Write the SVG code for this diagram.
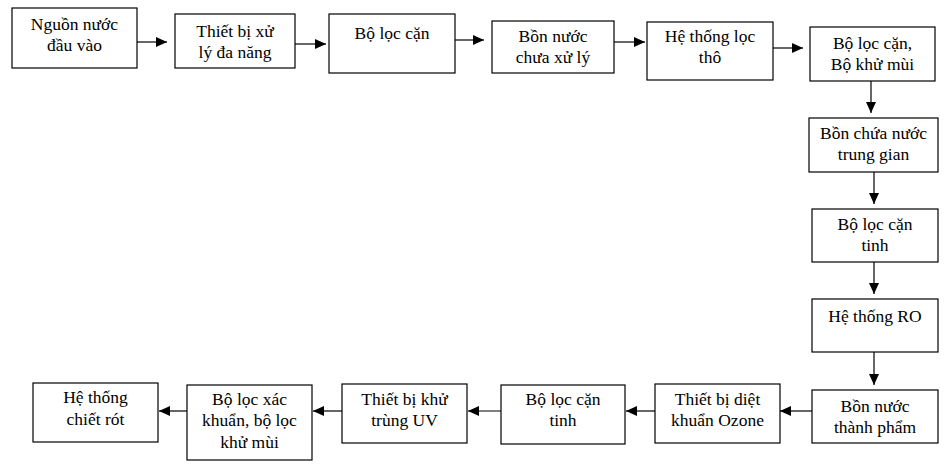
<svg xmlns="http://www.w3.org/2000/svg" width="950" height="465" viewBox="0 0 950 465">
<style>
.box{fill:#fff;stroke:#000;stroke-width:1.2}
text{font-family:"Liberation Serif","Times New Roman",serif;font-size:17.5px;fill:#000;text-anchor:middle}
.c{stroke:#000;stroke-width:1.2;fill:none;marker-end:url(#ah)}
</style>
<defs>
<marker id="ah" markerUnits="userSpaceOnUse" markerWidth="12" markerHeight="10" refX="11" refY="5" orient="auto">
<path d="M0,0 L11,5 L0,10 Z" fill="#000"/>
</marker>
</defs>
<rect width="950" height="465" fill="#fff"/>
<g id="connectors">
<line class="c" x1="137" y1="42" x2="167" y2="42"/>
<line class="c" x1="295" y1="44" x2="326" y2="44"/>
<line class="c" x1="455" y1="40" x2="484" y2="40"/>
<line class="c" x1="614" y1="42" x2="645" y2="42"/>
<line class="c" x1="773" y1="48" x2="803" y2="48"/>
<line class="c" x1="871" y1="81" x2="871" y2="113"/>
<line class="c" x1="874" y1="172" x2="874" y2="204"/>
<line class="c" x1="874" y1="262" x2="874" y2="294"/>
<line class="c" x1="874" y1="352" x2="874" y2="385"/>
<line class="c" x1="812" y1="411" x2="780" y2="411"/>
<line class="c" x1="655" y1="411" x2="626" y2="411"/>
<line class="c" x1="501" y1="411" x2="468" y2="411"/>
<line class="c" x1="342" y1="411" x2="313" y2="411"/>
<line class="c" x1="187" y1="411" x2="159" y2="411"/>
</g>
<g id="n1"><rect class="box" x="12" y="8" width="125" height="60"/><text x="74.5" y="30">Nguồn nước</text><text x="74.5" y="51">đầu vào</text></g>
<g id="n2"><rect class="box" x="175" y="14" width="120" height="54"/><text x="235" y="37">Thiết bị xử</text><text x="235" y="58">lý đa năng</text></g>
<g id="n3"><rect class="box" x="329" y="14" width="126" height="59"/><text x="392" y="39">Bộ lọc cặn</text></g>
<g id="n4"><rect class="box" x="492" y="21" width="122" height="52"/><text x="553" y="42">Bồn nước</text><text x="553" y="63">chưa xử lý</text></g>
<g id="n5"><rect class="box" x="647" y="22" width="126" height="58"/><text x="710" y="42">Hệ thống lọc</text><text x="710" y="63">thô</text></g>
<g id="n6"><rect class="box" x="810" y="27" width="125" height="54"/><text x="872.5" y="49">Bộ lọc cặn,</text><text x="872.5" y="70">Bộ khử mùi</text></g>
<g id="n7"><rect class="box" x="809" y="118" width="129" height="54"/><text x="873.5" y="139">Bồn chứa nước</text><text x="873.5" y="160">trung gian</text></g>
<g id="n8"><rect class="box" x="812" y="209" width="126" height="53"/><text x="875" y="230">Bộ lọc cặn</text><text x="875" y="251">tinh</text></g>
<g id="n9"><rect class="box" x="812" y="299" width="126" height="53"/><text x="875" y="322">Hệ thống RO</text></g>
<g id="n10"><rect class="box" x="812" y="390" width="126" height="53"/><text x="875" y="412">Bồn nước</text><text x="875" y="433">thành phẩm</text></g>
<g id="n11"><rect class="box" x="655" y="384" width="125" height="59"/><text x="717.5" y="405">Thiết bị diệt</text><text x="717.5" y="426">khuẩn Ozone</text></g>
<g id="n12"><rect class="box" x="501" y="385" width="124" height="59"/><text x="563" y="405">Bộ lọc cặn</text><text x="563" y="426">tinh</text></g>
<g id="n13"><rect class="box" x="342" y="384" width="125" height="59"/><text x="404.5" y="405">Thiết bị khử</text><text x="404.5" y="426">trùng UV</text></g>
<g id="n14"><rect class="box" x="187" y="385" width="125" height="75"/><text x="249.5" y="405">Bộ lọc xác</text><text x="249.5" y="426">khuẩn, bộ lọc</text><text x="249.5" y="448">khử mùi</text></g>
<g id="n15"><rect class="box" x="33" y="383" width="125" height="59"/><text x="95.5" y="403">Hệ thống</text><text x="95.5" y="425">chiết rót</text></g>
</svg>
